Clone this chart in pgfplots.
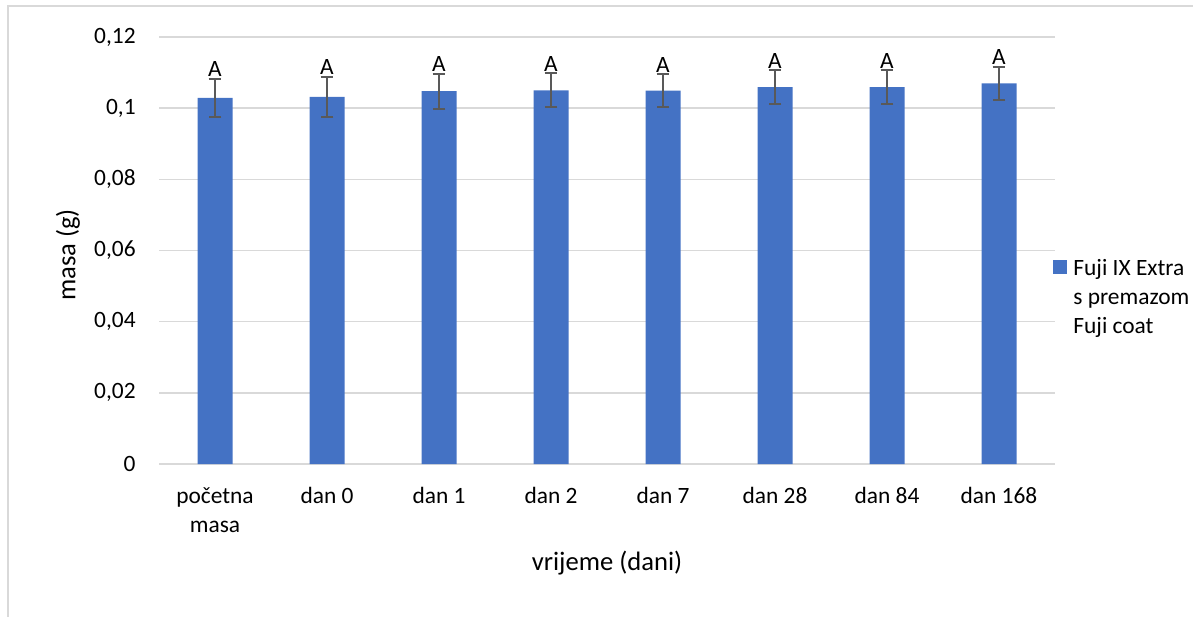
\documentclass[border=0pt]{standalone}
\usepackage{fontspec}
\setmainfont{Carlito}
\usepackage{pgfplots}
\usepackage{pgfplotstable}
\pgfplotsset{compat=1.18}

\definecolor{barblue}{HTML}{4472C4}
\definecolor{gridgray}{HTML}{D9D9D9}
\definecolor{errgray}{HTML}{595959}

\newcommand{\tickfont}{\fontsize{11.7}{14.5}\selectfont}
\newcommand{\titlefont}{\fontsize{13.3}{16}\selectfont}

% mass per time point, with its error
\pgfplotstableread{
x y err
0 0.1029 0.0054
1 0.1032 0.0056
2 0.1048 0.0049
3 0.1050 0.0048
4 0.1049 0.0047
5 0.1059 0.0047
6 0.1059 0.0047
7 0.1070 0.0047
}\masa

\begin{document}
\begin{tikzpicture}
  \useasboundingbox (0,0) rectangle (596.5pt,308pt);
  \draw[gridgray, line width=1pt] (3.75pt,-5pt) rectangle (610pt,304.75pt);
  \begin{axis}[
      at={(79.5pt,76pt)}, anchor=south west,
      scale only axis,
      width=448pt, height=213.5pt,
      xmin=-0.5, xmax=7.5,
      ymin=0, ymax=0.12,
      clip=false,
      axis line style={draw=none},
      major tick length=0pt,
      ymajorgrids=true,
      grid style={gridgray, line width=0.75pt},
      ytick={0,0.02,0.04,0.06,0.08,0.1,0.12},
      yticklabels={0,{0,02},{0,04},{0,06},{0,08},{0,1},{0,12}},
      yticklabel style={font=\tickfont, anchor=east, inner sep=0pt, xshift=-11.5pt},
      xtick={0,...,7},
      xticklabels={{početna\\masa}, dan 0, dan 1, dan 2, dan 7, dan 28, dan 84, dan 168},
      xticklabel style={font=\tickfont, align=center, anchor=north, inner sep=0pt, yshift=-11.5pt},
      xlabel={vrijeme (dani)},
      xlabel style={font=\titlefont, at={(axis description cs:0.5,0)}, anchor=center, yshift=-49.5pt},
      ylabel={masa (g)},
      ylabel style={font=\titlefont, at={(axis description cs:-0.1016,0.4895)}, anchor=center},
      legend image code/.code={\fill[#1] (0pt,0.8pt) rectangle (7pt,7.6pt);},
      legend style={draw=none, fill=none, inner sep=0pt, column sep=3pt,
        at={(axis description cs:1,0.4902)}, anchor=north west, xshift=-1pt,
        cells={anchor=base west}, nodes={inner sep=0pt}, font=\tickfont},
    ]
    \addplot[ybar, bar width=17.5pt, fill=barblue, draw=none,
      error bars/.cd, y dir=both, y explicit,
      error bar style={errgray, line width=1pt},
      error mark options={rotate=90, mark size=3.2pt, line width=1pt, errgray}]
      table[x=x, y=y, y error=err] {\masa};
    \addlegendentry{\begin{tabular}[t]{@{}l@{}}Fuji IX Extra\\s premazom\\Fuji coat\end{tabular}}
    \addplot[draw=none, mark=none, forget plot,
      nodes near coords={A},
      nodes near coords style={anchor=south, inner sep=0pt, yshift=0.8pt, font=\tickfont, text=black}]
      table[x=x, y expr=\thisrow{y}+\thisrow{err}] {\masa};
  \end{axis}
\end{tikzpicture}
\end{document}
